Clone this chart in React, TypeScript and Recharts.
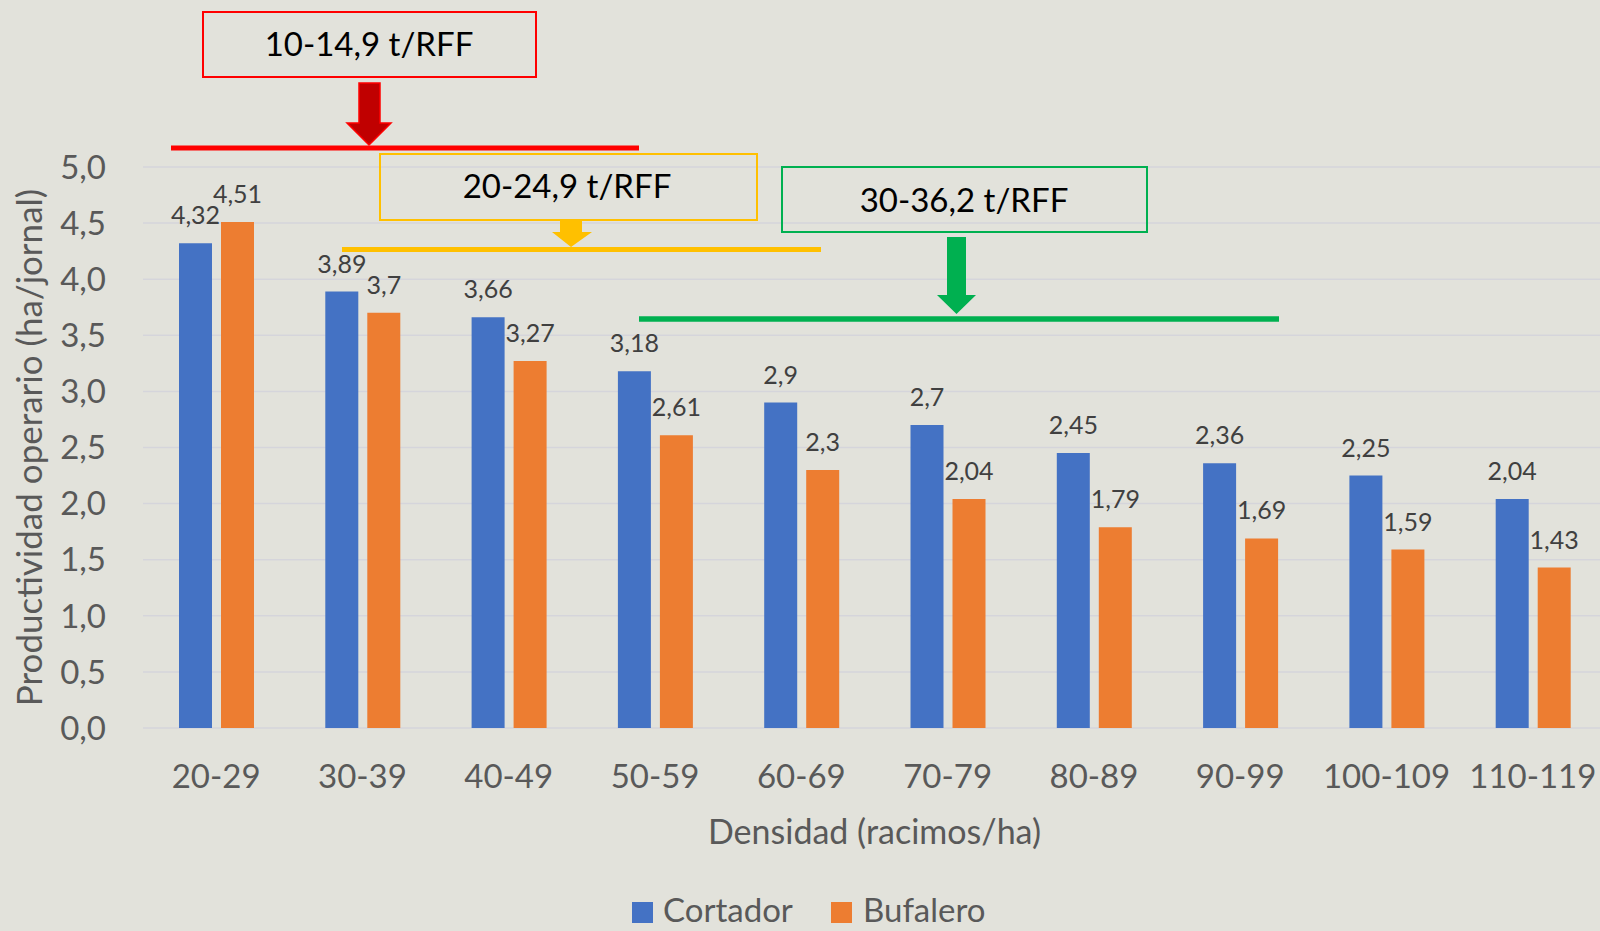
import React from 'react';
import { BarChart, Bar, XAxis, YAxis, CartesianGrid, LabelList, Label } from 'recharts';

const categories = ['20-29', '30-39', '40-49', '50-59', '60-69', '70-79', '80-89', '90-99', '100-109', '110-119'];
const cortador = [4.32, 3.89, 3.66, 3.18, 2.9, 2.7, 2.45, 2.36, 2.25, 2.04];
const bufalero = [4.51, 3.7, 3.27, 2.61, 2.3, 2.04, 1.79, 1.69, 1.59, 1.43];
const yTicks = [0, 0.5, 1, 1.5, 2, 2.5, 3, 3.5, 4, 4.5, 5];

const data = categories.map((name, i) => ({ name, cortador: cortador[i], bufalero: bufalero[i] }));

const FONT = 'Lato, "Open Sans", sans-serif';
const BLUE = '#4472C4';
const ORANGE = '#ED7D31';

const fmtValue = (v: any) => String(v).replace('.', ',');
const fmtTick = (v: number) => v.toFixed(1).replace('.', ',');

// annotation boxes, arrows and range lines drawn over the chart
function Overlay() {
  return (
    <svg width={1600} height={931} style={{ position: 'absolute', left: 0, top: 0, pointerEvents: 'none' }}>
      {/* red */}
      <line x1={171} x2={639} y1={148} y2={148} stroke="#FF0000" strokeWidth={5} />
      <rect x={203} y={12} width={333} height={65} fill="none" stroke="#FF0000" strokeWidth={2} />
      <text x={369} y={56} textAnchor="middle" fontSize={33} fontFamily={FONT} fill="#000">10-14,9 t/RFF</text>
      <polygon points="359,83 380,83 380,123 391,123 369,145 347,123 359,123" fill="#C00000" stroke="#FF0000" strokeWidth={1.5} />

      {/* yellow */}
      <line x1={342} x2={821} y1={249.5} y2={249.5} stroke="#FFC000" strokeWidth={5} />
      <rect x={380} y={154} width={377} height={66} fill="none" stroke="#FFC000" strokeWidth={2} />
      <text x={567} y={198} textAnchor="middle" fontSize={33} fontFamily={FONT} fill="#000">20-24,9 t/RFF</text>
      <polygon points="560,220 582,220 582,232 592,232 571,247 552,232 560,232" fill="#FFC000" />

      {/* green */}
      <line x1={639} x2={1279} y1={319} y2={319} stroke="#00B050" strokeWidth={5.5} />
      <rect x={782} y={167} width={365} height={65} fill="none" stroke="#00B050" strokeWidth={2} />
      <text x={964} y={212} textAnchor="middle" fontSize={33} fontFamily={FONT} fill="#000">30-36,2 t/RFF</text>
      <polygon points="947,237 966,237 966,295 976,295 956.5,314 937,295 947,295" fill="#00B050" />

      {/* legend */}
      <rect x={632} y={902} width={21} height={21} fill={BLUE} />
      <text x={663} y={922} fontSize={33} fontFamily={FONT} fill="#595959">Cortador</text>
      <rect x={831} y={902} width={21} height={21} fill={ORANGE} />
      <text x={863} y={922} fontSize={33} fontFamily={FONT} fill="#595959">Bufalero</text>
    </svg>
  );
}

export default function App() {
  return (
    <div style={{ position: 'absolute', left: 0, top: 0, width: 1600, height: 931, overflow: 'hidden', background: '#E2E2DB', fontFamily: FONT }}>
      <BarChart
        width={1620}
        height={931}
        data={data}
        margin={{ top: 167, right: 14, bottom: 63, left: 0 }}
        barSize={33}
        barGap={9}
      >
        <CartesianGrid vertical={false} stroke="#D5D5DB" strokeWidth={1.5} />
        <XAxis
          dataKey="name"
          interval={0}
          axisLine={false}
          tickLine={false}
          tickSize={0}
          tickMargin={37}
          height={140}
          tick={{ fontSize: 33, fill: '#595959', fontFamily: FONT }}
        >
          <Label value="Densidad (racimos/ha)" position="insideBottom" offset={24} style={{ fontSize: 34, fill: '#595959', fontFamily: FONT }} />
        </XAxis>
        <YAxis
          domain={[0, 5]}
          ticks={yTicks}
          tickFormatter={fmtTick}
          axisLine={false}
          tickLine={false}
          tickSize={0}
          tickMargin={37}
          width={143}
          tick={{ fontSize: 33, fill: '#595959', fontFamily: FONT }}
        >
          <Label
            value="Productividad operario (ha/jornal)"
            angle={-90}
            position="insideLeft"
            offset={30}
            style={{ fontSize: 35, fill: '#595959', fontFamily: FONT, textAnchor: 'middle' }}
          />
        </YAxis>
        <Bar dataKey="cortador" name="Cortador" fill={BLUE} isAnimationActive={false}>
          <LabelList dataKey="cortador" position="top" offset={19} formatter={fmtValue} style={{ fontSize: 25, fill: '#404040', fontFamily: FONT }} />
        </Bar>
        <Bar dataKey="bufalero" name="Bufalero" fill={ORANGE} isAnimationActive={false}>
          <LabelList dataKey="bufalero" position="top" offset={19} formatter={fmtValue} style={{ fontSize: 25, fill: '#404040', fontFamily: FONT }} />
        </Bar>
      </BarChart>
      <Overlay />
    </div>
  );
}
